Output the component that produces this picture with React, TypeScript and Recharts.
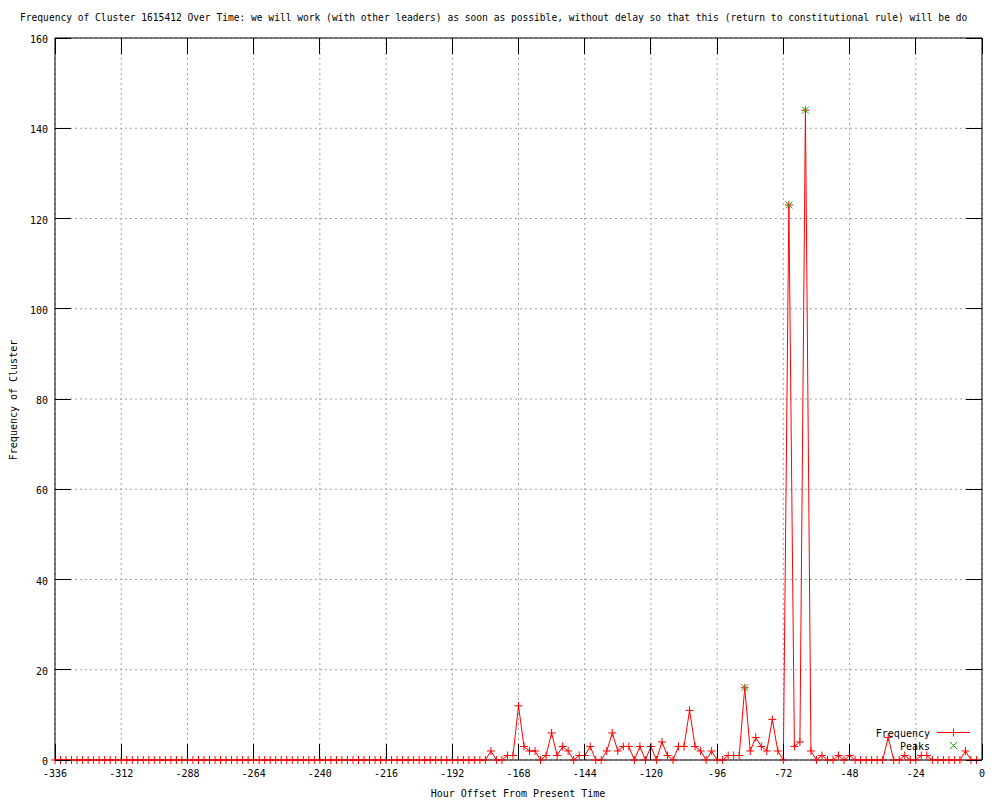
import React from "react";
import {
  ComposedChart,
  Line,
  Scatter,
  XAxis,
  YAxis,
  CartesianGrid,
  ReferenceArea
} from "recharts";

/* -----------------------------
   DATA (2-hour buckets, -336 .. -2)
------------------------------ */
const HOUR_START = -336;
const HOUR_STEP = 2;

const frequency = [
  0, 0, 0, 0, 0, 0, 0, 0, 0, 0, 0, 0, // -336 .. -314
  0, 0, 0, 0, 0, 0, 0, 0, 0, 0, 0, 0, // -312 .. -290
  0, 0, 0, 0, 0, 0, 0, 0, 0, 0, 0, 0, // -288 .. -266
  0, 0, 0, 0, 0, 0, 0, 0, 0, 0, 0, 0, // -264 .. -242
  0, 0, 0, 0, 0, 0, 0, 0, 0, 0, 0, 0, // -240 .. -218
  0, 0, 0, 0, 0, 0, 0, 0, 0, 0, 0, 0, // -216 .. -194
  0, 0, 0, 0, 0, 0, 0, 2, 0, 0, 1, 1, // -192 .. -170
  12, 3, 2, 2, 0, 1, 6, 1, 3, 2, 0, 1, // -168 .. -146
  1, 3, 0, 0, 2, 6, 2, 3, 3, 0, 3, 0, // -144 .. -122
  3, 0, 4, 1, 0, 3, 3, 11, 3, 2, 0, 2, // -120 .. -98
  0, 0, 1, 1, 1, 16, 2, 5, 3, 2, 9, 2, // -96 .. -74
  0, 123, 3, 4, 144, 2, 0, 1, 0, 0, 1, 0, // -72 .. -50
  1, 0, 0, 0, 0, 0, 0, 5, 0, 0, 1, 0, // -48 .. -26
  0, 1, 1, 0, 0, 0, 0, 0, 0, 2, 0, 0 // -24 .. -2
];

const peakHours = [-86, -70, -64];
const peakValues = [16, 123, 144];

const xTicks = [-336, -312, -288, -264, -240, -216, -192, -168, -144, -120, -96, -72, -48, -24, 0];
const yTicks = [0, 20, 40, 60, 80, 100, 120, 140, 160];

// title as far as it shows in the picture
const TITLE =
  "Frequency of Cluster 1615412 Over Time: we will work (with other leaders) as soon as possible, without delay so that this (return to constitutional rule) will be do";

const chartData = frequency.map((v, i) => ({ hour: HOUR_START + i * HOUR_STEP, freq: v }));
const peakData = peakHours.map((h, i) => ({ hour: h, freq: peakValues[i] }));

/* -----------------------------
   LAYOUT
------------------------------ */
const FONT = "'DejaVu Sans Mono', 'Liberation Mono', monospace";
const W = 1000;
const H = 800;
const MARGIN = { top: 38, right: 18, bottom: 0, left: 0 };
const Y_AXIS_W = 55;
const X_AXIS_H = 40;
const PLOT_W = W - Y_AXIS_W - MARGIN.right;
const PLOT_H = H - MARGIN.top - X_AXIS_H;
const TIC = 16;
const RED = "#ff0000";
const GREEN = "#00c000";

function XTick({ x, y, payload }: any) {
  return (
    <g>
      <line x1={x} y1={y} x2={x} y2={y - TIC} stroke="#000" shapeRendering="crispEdges" />
      <line x1={x} y1={y - PLOT_H} x2={x} y2={y - PLOT_H + TIC} stroke="#000" shapeRendering="crispEdges" />
      <text x={x} y={y + 17} textAnchor="middle" fontFamily={FONT} fontSize={10} fill="#000">
        {payload.value}
      </text>
    </g>
  );
}

function YTick({ x, y, payload }: any) {
  return (
    <g>
      <line x1={x} y1={y} x2={x + TIC} y2={y} stroke="#000" shapeRendering="crispEdges" />
      <line x1={x + PLOT_W} y1={y} x2={x + PLOT_W - TIC} y2={y} stroke="#000" shapeRendering="crispEdges" />
      <text x={x - 7} y={y + 5} textAnchor="end" fontFamily={FONT} fontSize={10} fill="#000">
        {payload.value}
      </text>
    </g>
  );
}

function plusPath(cx: number, cy: number, r: number) {
  return `M${cx - r},${cy}H${cx + r}M${cx},${cy - r}V${cy + r}`;
}

function crossPath(cx: number, cy: number, r: number) {
  return `M${cx - r},${cy - r}L${cx + r},${cy + r}M${cx - r},${cy + r}L${cx + r},${cy - r}`;
}

const renderPlus = (props: any) => (
  <path key={`p-${props.index}`} d={plusPath(props.cx, props.cy, 4)} stroke={RED} strokeWidth={1} fill="none" />
);

const renderCross = (props: any) => (
  <path d={crossPath(props.cx, props.cy, 3.5)} stroke={GREEN} strokeWidth={1} fill="none" />
);

export default function App() {
  return (
    <div style={{ position: "absolute", left: 0, top: 0, width: W, height: H, background: "#fff" }}>
      <ComposedChart width={W} height={H} data={chartData} margin={MARGIN}>
        <CartesianGrid
          stroke="#a0a0a0"
          strokeDasharray="2 3"
          horizontalValues={yTicks}
          verticalValues={xTicks}
        />
        <XAxis
          dataKey="hour"
          type="number"
          domain={[-336, 0]}
          ticks={xTicks}
          interval={0}
          height={X_AXIS_H}
          axisLine={false}
          tickLine={false}
          tickSize={0}
          tickMargin={0}
          tick={<XTick />}
        />
        <YAxis
          type="number"
          domain={[0, 160]}
          ticks={yTicks}
          interval={0}
          width={Y_AXIS_W}
          axisLine={false}
          tickLine={false}
          tickSize={0}
          tickMargin={0}
          tick={<YTick />}
        />
        <Line
          dataKey="freq"
          type="linear"
          stroke={RED}
          strokeWidth={1}
          dot={renderPlus}
          activeDot={false}
          isAnimationActive={false}
        />
        <Scatter data={peakData} dataKey="freq" shape={renderCross} isAnimationActive={false} />
        <ReferenceArea x1={-336} x2={0} y1={0} y2={160} fill="none" stroke="#000" strokeOpacity={1} fillOpacity={0} />
      </ComposedChart>

      <svg
        width={W}
        height={H}
        style={{ position: "absolute", left: 0, top: 0, pointerEvents: "none" }}
        fontFamily={FONT}
        fontSize={10}
      >
        <text x={20} y={21} fill="#000" fontSize={9.6}>
          {TITLE}
        </text>
        <text x={518} y={797} textAnchor="middle" fill="#000">Hour Offset From Present Time</text>
        <text x={17} y={400} textAnchor="middle" fill="#000" transform="rotate(-90 17 400)">
          Frequency of Cluster
        </text>

        {/* legend */}
        <text x={930} y={736.5} textAnchor="end" fill="#000">Frequency</text>
        <line x1={937} y1={732.5} x2={970} y2={732.5} stroke={RED} />
        <path d={plusPath(953.5, 732.5, 4)} stroke={RED} fill="none" />
        <text x={930} y={749.5} textAnchor="end" fill="#000">Peaks</text>
        <path d={crossPath(953.5, 745.5, 3.5)} stroke={GREEN} fill="none" />
      </svg>
    </div>
  );
}
